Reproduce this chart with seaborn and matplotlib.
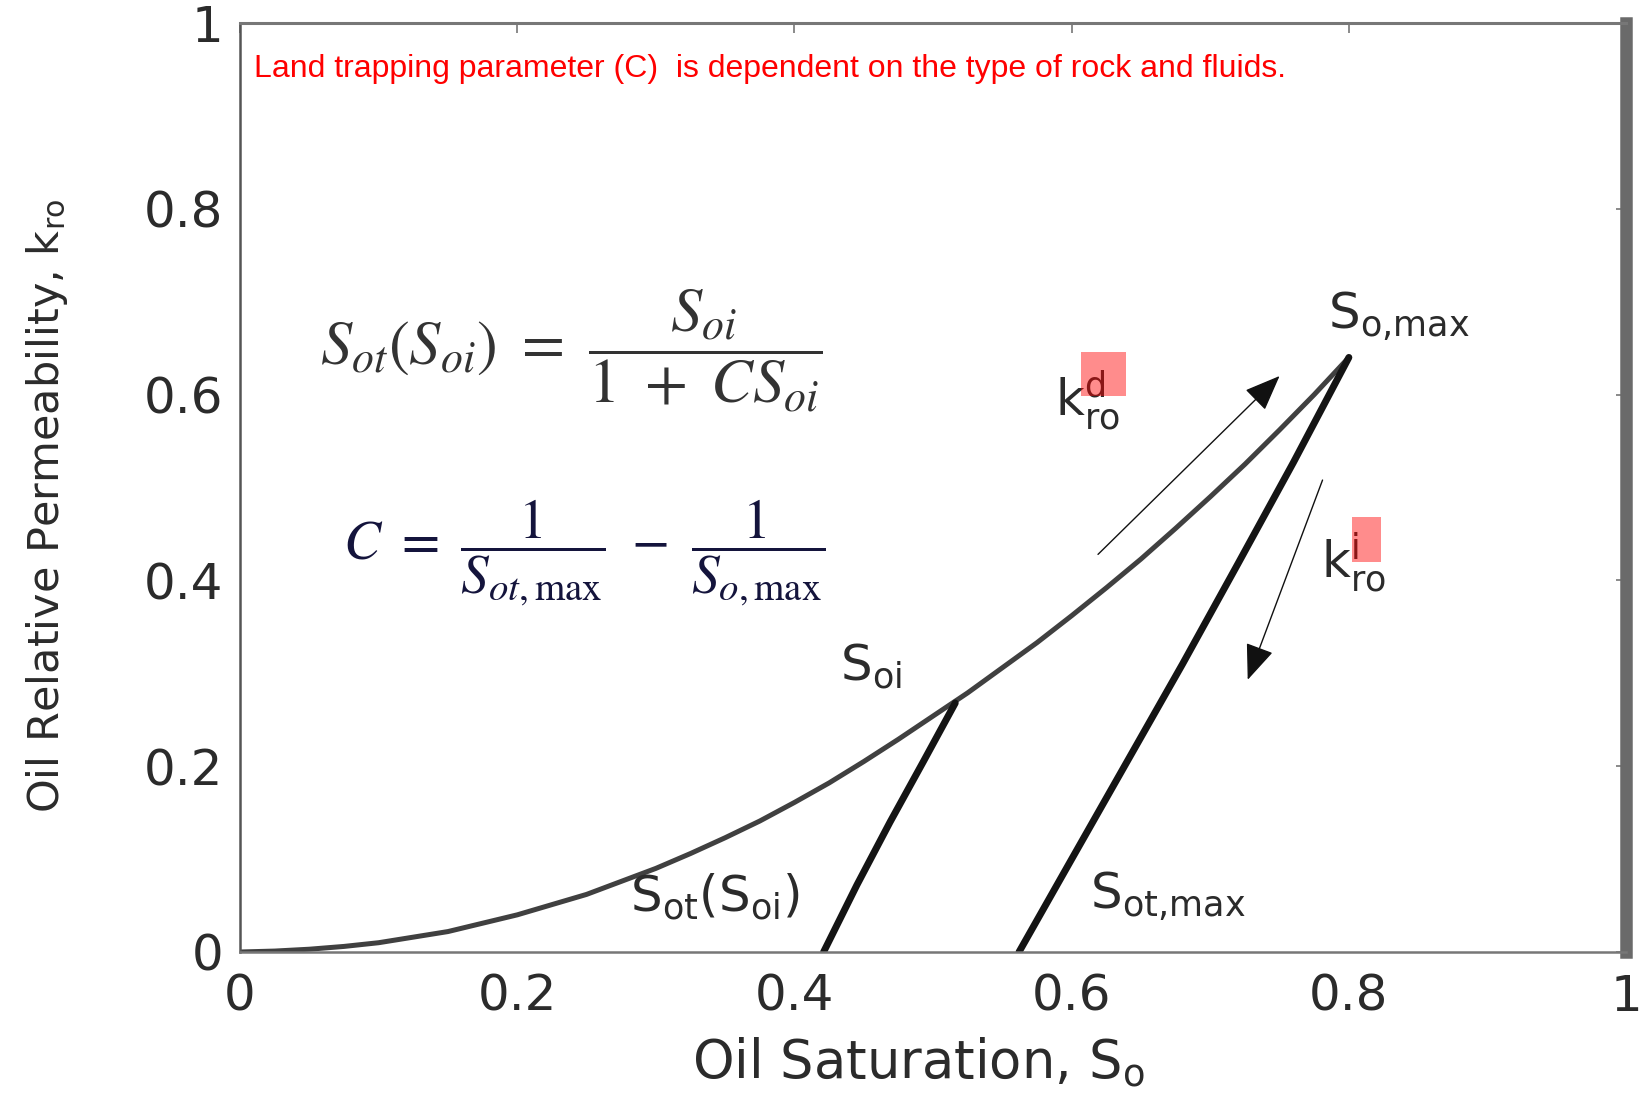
import matplotlib
matplotlib.use("Agg")
import matplotlib.pyplot as plt
from matplotlib.patches import Rectangle
import pandas as pd
import seaborn as sns

# curva de drenaje kro^d
so_drenaje = [0.0, 0.025, 0.05, 0.075, 0.10, 0.125, 0.15, 0.175, 0.20, 0.225, 0.25, 0.275,
              0.30, 0.325, 0.35, 0.375, 0.40, 0.425, 0.45, 0.475, 0.50, 0.525, 0.55, 0.575,
              0.60, 0.625, 0.65, 0.675, 0.70, 0.725, 0.75, 0.775, 0.80]
kro_drenaje = [0.0, 0.001, 0.003, 0.006, 0.010, 0.016, 0.022, 0.031, 0.040, 0.051, 0.062, 0.076,
               0.090, 0.106, 0.123, 0.141, 0.161, 0.182, 0.205, 0.229, 0.254, 0.279, 0.306, 0.333,
               0.362, 0.392, 0.423, 0.456, 0.490, 0.525, 0.562, 0.600, 0.640]

# imbibicion desde Soi
so_imb_soi = [0.421, 0.445, 0.469, 0.493, 0.516]
kro_imb_soi = [0.0, 0.072, 0.140, 0.205, 0.268]

# imbibicion desde So,max
so_imb_max = [0.562, 0.600, 0.640, 0.680, 0.720, 0.760, 0.800]
kro_imb_max = [0.0, 0.100, 0.205, 0.310, 0.418, 0.527, 0.640]

x_ticks = [0, 0.2, 0.4, 0.6, 0.8, 1]
x_tick_labels = ["0", "0.2", "0.4", "0.6", "0.8", "1"]
y_ticks = [0, 0.2, 0.4, 0.6, 0.8, 1]
y_tick_labels = ["0", "0.2", "0.4", "0.6", "0.8", "1"]

sns.set_style("white")
plt.rcParams['font.family'] = ['DejaVu Sans']
plt.rcParams['mathtext.fontset'] = 'dejavusans'

fig = plt.figure(figsize=(16.5, 10.94), dpi=100)
fig.subplots_adjust(left=0.1455, right=0.9855, bottom=0.1298, top=0.979)
ax = fig.add_subplot(111)

df_dren = pd.DataFrame({"So": so_drenaje, "kro": kro_drenaje})
df_soi = pd.DataFrame({"So": so_imb_soi, "kro": kro_imb_soi})
df_max = pd.DataFrame({"So": so_imb_max, "kro": kro_imb_max})

sns.lineplot(data=df_dren, x="So", y="kro", ax=ax, color="#404040", lw=3.6,
             sort=False, estimator=None)
sns.lineplot(data=df_soi, x="So", y="kro", ax=ax, color="#141414", lw=5.0,
             sort=False, estimator=None)
sns.lineplot(data=df_max, x="So", y="kro", ax=ax, color="#141414", lw=5.0,
             sort=False, estimator=None)

ax.set_xlim(0, 1)
ax.set_ylim(0, 1)
ax.set_xticks(x_ticks)
ax.set_xticklabels(x_tick_labels)
ax.set_yticks(y_ticks)
ax.set_yticklabels(y_tick_labels)
ax.tick_params(axis='both', direction='in', length=7, width=1.2, colors='#777777',
               labelcolor='#2b2b2b', labelsize=36, top=True, right=True)
ax.tick_params(axis='x', pad=15)
ax.tick_params(axis='y', pad=12)

# bordes estilo matlab
ax.spines['left'].set_color('#555555')
ax.spines['left'].set_linewidth(1.8)
ax.spines['bottom'].set_color('#777777')
ax.spines['bottom'].set_linewidth(1.8)
ax.spines['top'].set_color('#777777')
ax.spines['top'].set_linewidth(2.2)
ax.spines['right'].set_color('#6a6a6a')
ax.spines['right'].set_linewidth(9)

ax.set_xlabel(r"Oil Saturation, S$_\mathrm{o}$", fontsize=38, color='#2b2b2b', va='center')
ax.xaxis.set_label_coords(0.489, -0.119)
ax.set_ylabel(r"Oil Relative Permeability, k$_\mathrm{ro}$", fontsize=31, color='#2b2b2b', va='center')
ax.yaxis.set_label_coords(-0.139, 0.48)

# texto en rojo
ax.text(0.0098, 0.950, "Land trapping parameter (C)  is dependent on the type of rock and fluids.",
        transform=ax.transAxes, color='#ff0000', fontsize=23, family='Liberation Sans', va='center')

# ecuaciones
ax.text(0.058, 0.647, r"$S_{ot}(S_{oi})\ =\ \dfrac{S_{oi}}{1\ +\ CS_{oi}}$", fontsize=45,
        math_fontfamily='stix', color='#333333', va='center')
ax.text(0.074, 0.430, r"$C\ =\ \dfrac{\ \ 1\ \ }{S_{ot,\mathrm{max}}}\ -\ \dfrac{\ \ 1\ \ }{S_{o,\mathrm{max}}}$",
        fontsize=40, math_fontfamily='stix', color='#14143c', va='center')

# etiquetas de las curvas
lab_kw = dict(fontsize=36, color='#2b2b2b', va='center')
ax.text(0.785, 0.685, r"S$_\mathrm{o{,}max}$", **lab_kw)
ax.text(0.588, 0.593, r"k$_\mathrm{ro}^\mathrm{d}$", **lab_kw)
ax.text(0.780, 0.419, r"k$_\mathrm{ro}^\mathrm{i}$", **lab_kw)
ax.text(0.433, 0.308, r"S$_\mathrm{oi}$", **lab_kw)
ax.text(0.281, 0.059, r"S$_\mathrm{ot}$(S$_\mathrm{oi}$)", **lab_kw)
ax.text(0.613, 0.061, r"S$_\mathrm{ot{,}max}$", **lab_kw)

# recuadros rosados sobre los superindices
ax.add_patch(Rectangle((0.607, 0.598), 0.032, 0.048, color='#ff0000', alpha=0.45, lw=0, zorder=5))
ax.add_patch(Rectangle((0.802, 0.420), 0.021, 0.048, color='#ff0000', alpha=0.45, lw=0, zorder=5))

# flechas
arrow_kw = dict(arrowstyle="-|>,head_length=0.75,head_width=0.3", color="#111111", lw=1.0,
                mutation_scale=30, shrinkA=0, shrinkB=0)
ax.annotate("", xy=(0.750, 0.620), xytext=(0.619, 0.428), arrowprops=arrow_kw)
ax.annotate("", xy=(0.727, 0.293), xytext=(0.781, 0.508), arrowprops=arrow_kw)

fig.savefig("out.png", dpi=100, facecolor='white')
